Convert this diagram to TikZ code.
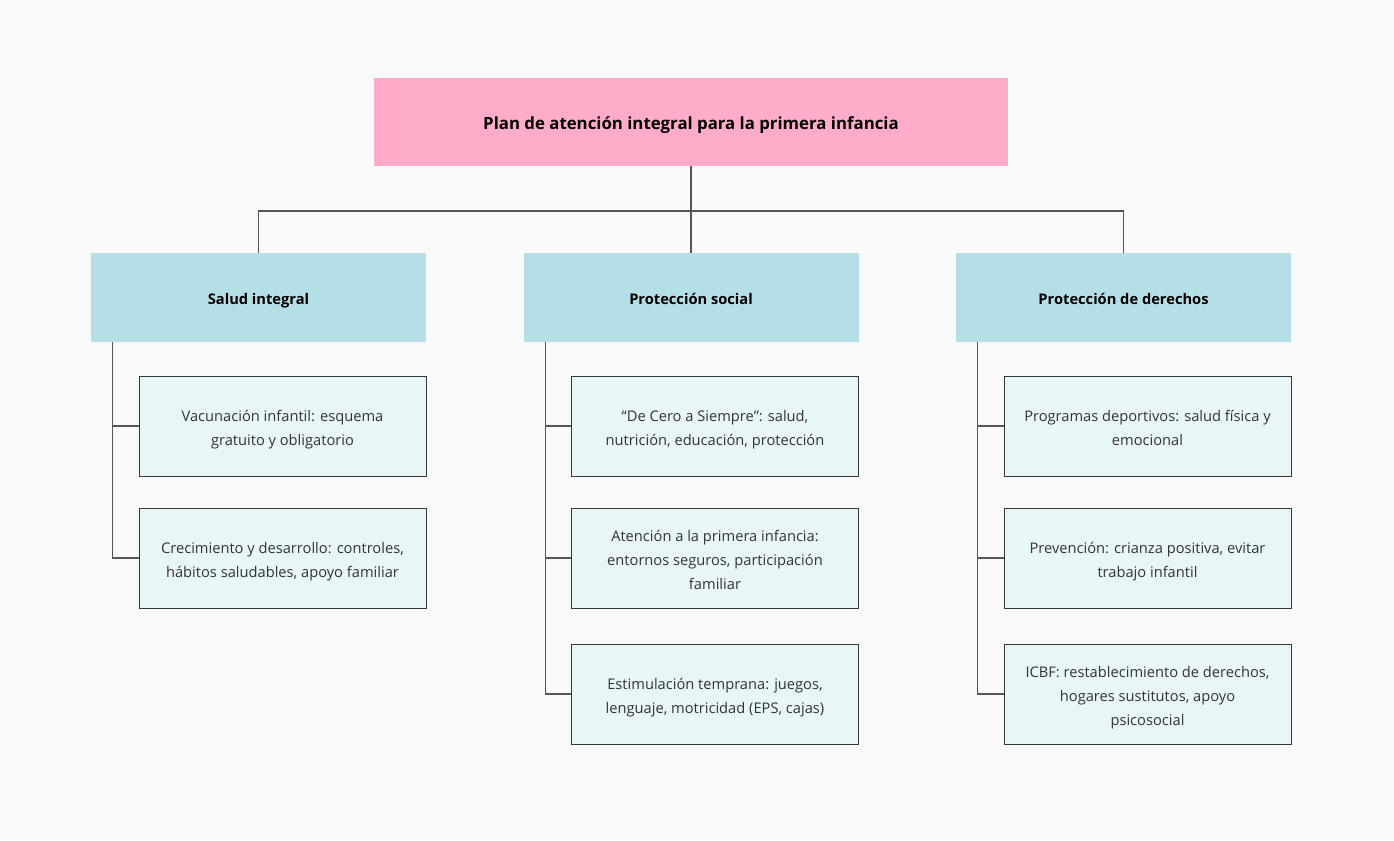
\documentclass[tikz,border=0pt]{standalone}
\usepackage{fontspec}
\setmainfont{Open Sans}
\definecolor{bg}{HTML}{F9F9F9}
\definecolor{rootfill}{HTML}{FFACCB}
\definecolor{midfill}{HTML}{B5DFE6}
\definecolor{leaffill}{HTML}{E8F6F7}
\definecolor{leafline}{HTML}{2F3B3D}
\definecolor{conn}{HTML}{555555}
\definecolor{txt}{HTML}{333333}
\newcommand\tstr{\rule{0pt}{15pt}}
\newcommand\bstr{\rule[-3.8pt]{0pt}{3.8pt}}
\begin{document}
\begin{tikzpicture}[x=0.75pt,y=-0.75pt,
  rootbox/.style={fill=rootfill,draw=none,minimum width=634*0.75pt,minimum height=88*0.75pt,inner sep=0pt,text height=15pt,text depth=3.8pt,font=\fontsize{12.6}{15}\selectfont\bfseries,text=black},
  midbox/.style={fill=midfill,draw=none,minimum width=335*0.75pt,minimum height=89*0.75pt,inner sep=0pt,text height=15pt,text depth=3.8pt,font=\fontsize{11}{14}\selectfont\bfseries,text=black},
  leafbox/.style={fill=leaffill,draw=leafline,line width=0.75pt,minimum width=287*0.75pt,minimum height=100*0.75pt,inner sep=0pt,align=center,font=\fontsize{11}{18}\selectfont,text=txt},
  link/.style={draw=conn,line width=0.9pt},
]
\fill[bg] (0,0) rectangle (1394,840);
\useasboundingbox (0,0) rectangle (1394,840);

\node[rootbox] (root) at (691,122) {Plan de atención integral para la primera infancia};

\node[midbox] (s) at (258.5,297.5) {Salud integral};
\node[midbox] (p) at (691,297.5) {Protección social};
\node[midbox] (d) at (1123.5,297.5) {Protección de derechos};

\node[leafbox] (s1) at (282.5,426) {\tstr Vacunación infantil: esquema\\gratuito y obligatorio\bstr};
\node[leafbox] (s2) at (282.5,558) {\tstr Crecimiento y desarrollo: controles,\\hábitos saludables, apoyo familiar\bstr};

\node[leafbox] (p1) at (715,426) {\tstr “De Cero a Siempre”: salud,\\nutrición, educación, protección\bstr};
\node[leafbox] (p2) at (715,558) {\tstr Atención a la primera infancia:\\entornos seguros, participación\\familiar\bstr};
\node[leafbox] (p3) at (715,694) {\tstr Estimulación temprana: juegos,\\lenguaje, motricidad (EPS, cajas)\bstr};

\node[leafbox] (d1) at (1147.5,426) {\tstr Programas deportivos: salud física y\\emocional\bstr};
\node[leafbox] (d2) at (1147.5,558) {\tstr Prevención: crianza positiva, evitar\\trabajo infantil\bstr};
\node[leafbox] (d3) at (1147.5,694) {\tstr ICBF: restablecimiento de derechos,\\hogares sustitutos, apoyo\\psicosocial\bstr};

\coordinate (bus) at (691,211);
\draw[link] (root.south) -- (bus);
\draw[link] (s.north) |- (bus) -| (d.north);
\draw[link] (bus) -- (p.north);

\foreach \m/\l in {s/s1,s/s2,p/p1,p/p2,p/p3,d/d1,d/d2,d/d3}{
  \draw[link] ([xshift=22*0.75pt]\m.south west) |- (\l.west);
}
\end{tikzpicture}
\end{document}
